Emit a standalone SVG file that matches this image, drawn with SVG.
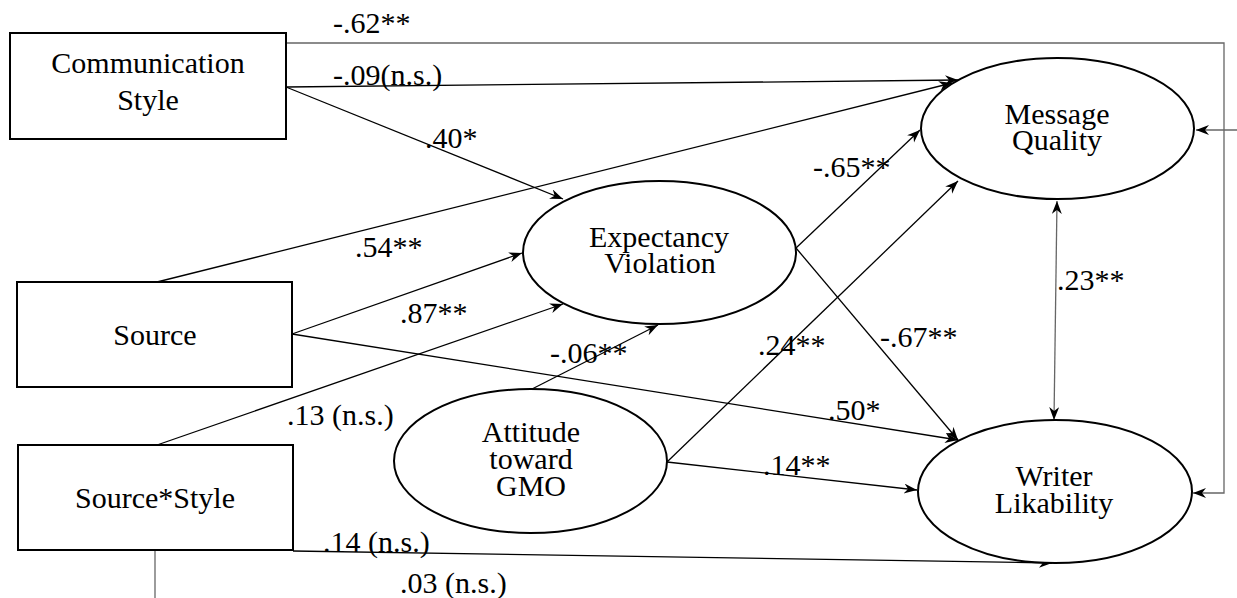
<svg xmlns="http://www.w3.org/2000/svg" width="1237" height="598" viewBox="0 0 1237 598">
<style>
.node{fill:#fff;stroke:#000;stroke-width:2}
.nt{font-family:"Liberation Serif","DejaVu Serif",serif;font-size:30px;fill:#000;text-anchor:middle}
.lbl{font-family:"Liberation Serif","DejaVu Serif",serif;font-size:30px;fill:#000}
.c{fill:none;stroke:#000;stroke-width:1.3}
.g{fill:none;stroke:#666;stroke-width:1.3}
</style>
<defs>
<marker id="ah" markerUnits="userSpaceOnUse" markerWidth="14" markerHeight="12" refX="13" refY="5" orient="auto">
<path d="M0,0 L13,5 L0,10 L4,5 z" fill="#000"/>
</marker>
<marker id="ahs" markerUnits="userSpaceOnUse" markerWidth="14" markerHeight="12" refX="13" refY="5" orient="auto-start-reverse">
<path d="M0,0 L13,5 L0,10 L4,5 z" fill="#000"/>
</marker>
</defs>
<rect width="1237" height="598" fill="#fff"/>
<g id="connectors">
<line class="c" x1="286" y1="87" x2="958" y2="80" marker-end="url(#ah)"/>
<line class="c" x1="286" y1="87" x2="563" y2="199" marker-end="url(#ah)"/>
<line class="c" x1="157" y1="282" x2="952" y2="83" marker-end="url(#ah)"/>
<line class="c" x1="292" y1="334" x2="522" y2="253" marker-end="url(#ah)"/>
<line class="c" x1="292" y1="334" x2="958" y2="440" marker-end="url(#ah)"/>
<line class="c" x1="157" y1="445" x2="563" y2="304" marker-end="url(#ah)"/>
<line class="c" x1="532" y1="389" x2="658" y2="325" marker-end="url(#ah)"/>
<line class="c" x1="796" y1="248" x2="920" y2="130" marker-end="url(#ah)"/>
<line class="c" x1="796" y1="248" x2="958" y2="440" marker-end="url(#ah)"/>
<line class="c" x1="667" y1="462" x2="958" y2="181" marker-end="url(#ah)"/>
<line class="c" x1="667" y1="462" x2="917" y2="490" marker-end="url(#ah)"/>
<line class="c" x1="293" y1="551" x2="1052" y2="563" marker-end="url(#ah)"/>
<polyline class="g" points="286,43 1224,43 1224,493 1193,493" marker-end="url(#ah)"/>
<line class="g" x1="1237" y1="130" x2="1196" y2="130" marker-end="url(#ah)"/>
<line class="g" x1="1057" y1="201" x2="1054" y2="420" marker-start="url(#ahs)" marker-end="url(#ah)"/>
<line class="g" x1="155" y1="550" x2="155" y2="598"/>
<text class="lbl" x="333" y="33">-.62**</text>
<text class="lbl" x="333" y="85">-.09(n.s.)</text>
<text class="lbl" x="425" y="148">.40*</text>
<text class="lbl" x="355" y="257">.54**</text>
<text class="lbl" x="400" y="323">.87**</text>
<text class="lbl" x="287" y="425">.13 (n.s.)</text>
<text class="lbl" x="550" y="363">-.06**</text>
<text class="lbl" x="813" y="177">-.65**</text>
<text class="lbl" x="880" y="347">-.67**</text>
<text class="lbl" x="758" y="355">.24**</text>
<text class="lbl" x="828" y="420">.50*</text>
<text class="lbl" x="763" y="475">.14**</text>
<text class="lbl" x="1057" y="290">.23**</text>
<text class="lbl" x="323" y="552">.14 (n.s.)</text>
<text class="lbl" x="400" y="593">.03 (n.s.)</text>
</g>
<g id="communication-style">
<rect class="node" x="10" y="33" width="276" height="106"/>
<text class="nt" x="148" y="73">Communication</text>
<text class="nt" x="148" y="110">Style</text>
</g>
<g id="source">
<rect class="node" x="17" y="282" width="275" height="105"/>
<text class="nt" x="155" y="345">Source</text>
</g>
<g id="source-style">
<rect class="node" x="18" y="445" width="275" height="105"/>
<text class="nt" x="155" y="508">Source*Style</text>
</g>
<g id="expectancy-violation">
<ellipse class="node" cx="659.5" cy="252.5" rx="136.5" ry="71.5"/>
<text class="nt" x="659" y="247">Expectancy</text>
<text class="nt" x="660" y="273">Violation</text>
</g>
<g id="attitude-gmo">
<ellipse class="node" cx="530.5" cy="461" rx="136.5" ry="72"/>
<text class="nt" x="531" y="442">Attitude</text>
<text class="nt" x="531" y="469">toward</text>
<text class="nt" x="531" y="496">GMO</text>
</g>
<g id="message-quality">
<ellipse class="node" cx="1057.5" cy="128.5" rx="136.5" ry="70.5"/>
<text class="nt" x="1057" y="124">Message</text>
<text class="nt" x="1057" y="150">Quality</text>
</g>
<g id="writer-likability">
<ellipse class="node" cx="1055" cy="491.5" rx="137" ry="71.5"/>
<text class="nt" x="1054" y="486">Writer</text>
<text class="nt" x="1054" y="513">Likability</text>
</g>
</svg>
